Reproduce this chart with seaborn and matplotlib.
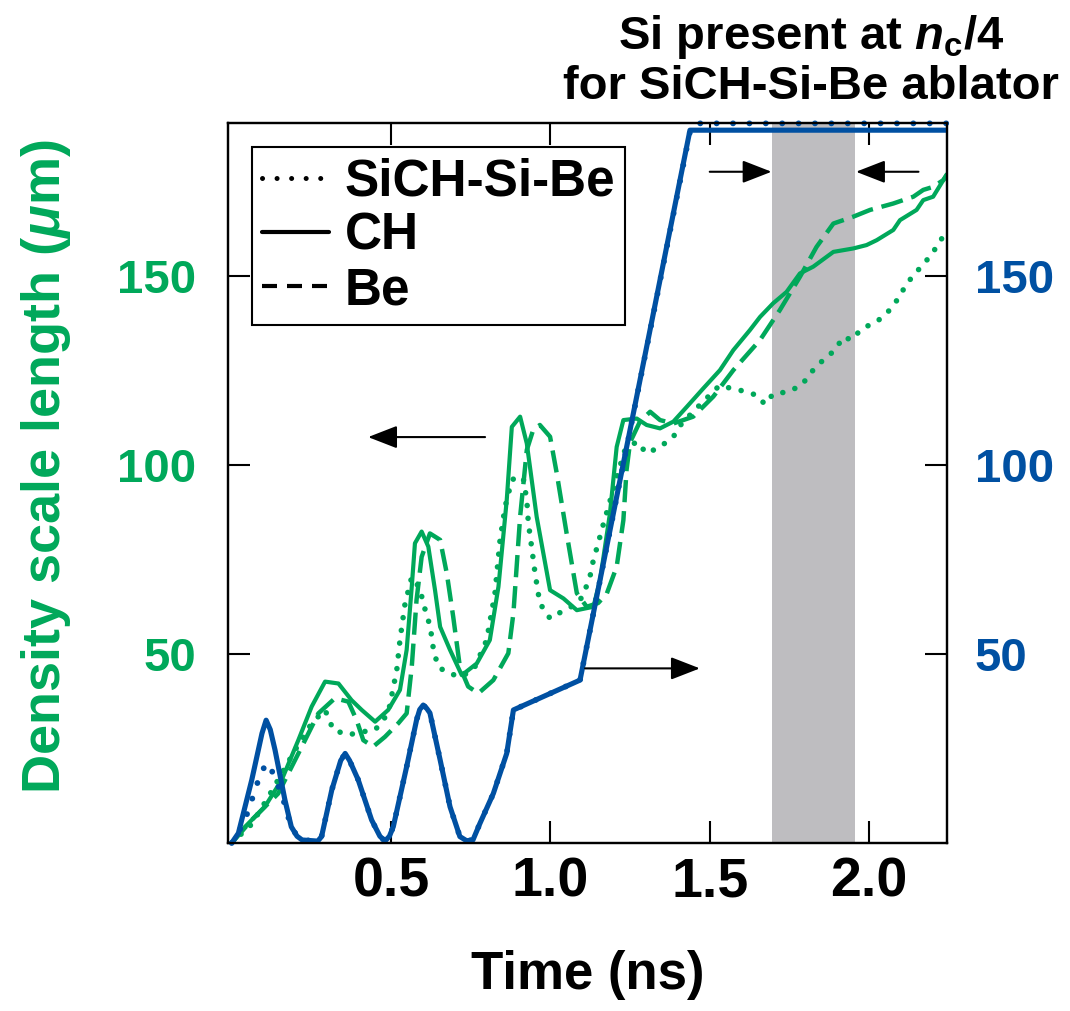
import matplotlib
matplotlib.use("Agg")
import matplotlib.pyplot as plt
import seaborn as sns
from matplotlib.lines import Line2D

# ---------------- data (time in ns, values in um) ----------------
blue_ch_t = [0, 0.021, 0.063, 0.095, 0.108, 0.121, 0.136, 0.167, 0.187, 0.205, 0.221, 0.27, 0.282, 0.314,
             0.342, 0.356, 0.37, 0.397, 0.439, 0.465, 0.481, 0.495, 0.507, 0.549, 0.58, 0.59, 0.601, 0.612,
             0.622, 0.654, 0.685, 0.716, 0.737, 0.757, 0.779, 0.821, 0.863, 0.884, 1.093, 1.438, 2.245]
blue_ch_v = [0, 2.6, 16.7, 29.0, 32.5, 30.0, 24.6, 11.4, 4.3, 1.8, 0.8, 0.5, 1.7, 14.0,
             21.8, 23.7, 21.8, 16.7, 6.1, 1.8, 0.5, 1.8, 4.3, 20.2, 32.5, 35.3, 36.5, 35.6,
             34.4, 22.0, 9.6, 1.7, 0.6, 0.8, 5.2, 13.1, 23.7, 35.2, 43.1, 188.6, 188.6]

blue_si_t = [0, 0.021, 0.05, 0.094, 0.118, 0.136, 0.157, 0.173, 0.188, 0.205, 0.221, 0.27, 0.282, 0.314,
             0.342, 0.356, 0.37, 0.397, 0.439, 0.465, 0.481, 0.495, 0.507, 0.549, 0.58, 0.59, 0.601, 0.612,
             0.622, 0.654, 0.685, 0.716, 0.737, 0.757, 0.779, 0.821, 0.863, 0.884, 1.093, 1.44, 1.455, 2.245]
blue_si_v = [0, 2.6, 8.0, 19.3, 21.1, 16.7, 13.1, 7.9, 4.3, 1.8, 0.8, 0.5, 1.7, 14.0,
             21.8, 23.7, 21.8, 16.7, 6.1, 1.8, 0.5, 1.8, 4.3, 20.2, 32.5, 35.3, 36.5, 35.6,
             34.4, 22.0, 9.6, 1.7, 0.6, 0.8, 5.2, 13.1, 23.7, 35.2, 43.1, 189.0, 190.4, 190.4]

green_ch_t = [0, 0.042, 0.104, 0.157, 0.209, 0.251, 0.293, 0.335, 0.376, 0.408, 0.45, 0.491, 0.528, 0.549,
              0.565, 0.575, 0.596, 0.617, 0.638, 0.654, 0.685, 0.722, 0.769, 0.81, 0.837, 0.863, 0.879,
              0.905, 0.926, 0.957, 0.999, 1.041, 1.083, 1.135, 1.156, 1.187, 1.208, 1.229, 1.271, 1.302,
              1.344, 1.386, 1.428, 1.48, 1.532, 1.574, 1.626, 1.658, 1.699, 1.741, 1.783, 1.825, 1.888,
              1.95, 1.992, 2.024, 2.076, 2.097, 2.149, 2.17, 2.201, 2.233, 2.245]
green_ch_v = [0, 4.3, 9.6, 16.7, 27.2, 36.1, 42.7, 42.2, 37.8, 35.2, 32.1, 35.2, 40.5, 51.1,
              67.8, 79.3, 82.4, 78.4, 66.9, 57.2, 51.1, 44.4, 47.5, 53.7, 67.8, 90.7, 110.1,
              112.8, 105.7, 86.3, 66.9, 64.7, 61.6, 62.5, 69.6, 87.3, 104.8, 111.9, 112.3, 110.6,
              109.7, 111.5, 115.4, 120.3, 125.1, 130.4, 135.7, 139.2, 142.8, 145.8, 150.7, 152.5, 156.4,
              157.3, 158.2, 159.5, 162.2, 164.8, 167.5, 170.1, 171.0, 175.4, 177.0]

green_be_t = [0, 0.063, 0.146, 0.22, 0.272, 0.324, 0.366, 0.392, 0.413, 0.444, 0.481, 0.523, 0.549, 0.565,
              0.58, 0.596, 0.622, 0.654, 0.675, 0.695, 0.716, 0.742, 0.774, 0.821, 0.868, 0.884, 0.905,
              0.926, 0.946, 0.967, 0.999, 1.02, 1.051, 1.083, 1.114, 1.15, 1.177, 1.208, 1.229, 1.239,
              1.25, 1.281, 1.313, 1.344, 1.386, 1.448, 1.511, 1.574, 1.658, 1.72, 1.783, 1.835, 1.888,
              1.95, 2.003, 2.076, 2.107, 2.139, 2.17, 2.201, 2.233, 2.245]
green_be_v = [0, 6.1, 13.1, 25.5, 34.3, 38.3, 37.4, 32.5, 27.2, 25.5, 28.1, 31.7, 34.3, 46.6,
              64.3, 75.7, 81.9, 80.2, 71.3, 59.9, 46.6, 41.4, 39.6, 43.1, 50.2, 60.8, 86.3,
              104.0, 109.3, 110.6, 107.5, 97.8, 81.9, 66.1, 62.5, 63.5, 66.0, 73.1, 85.4, 98.7,
              106.0, 111.5, 114.1, 111.9, 111.0, 112.8, 118.1, 125.1, 133.1, 141.0, 149.8, 157.7, 163.9,
              165.7, 167.5, 169.2, 170.1, 171.0, 172.8, 173.6, 175.4, 177.0]

green_si_t = [0, 0.063, 0.115, 0.199, 0.251, 0.293, 0.319, 0.366, 0.408, 0.45, 0.491, 0.518, 0.528, 0.544,
              0.565, 0.591, 0.601, 0.617, 0.628, 0.633, 0.648, 0.68, 0.72, 0.76, 0.8, 0.826, 0.842, 0.858,
              0.879, 0.894, 0.915, 0.926, 0.931, 0.941, 0.952, 0.967, 0.999, 1.035, 1.065, 1.1, 1.124,
              1.135, 1.15, 1.161, 1.203, 1.218, 1.234, 1.271, 1.302, 1.344, 1.386, 1.412, 1.47, 1.53,
              1.595, 1.647, 1.673, 1.699, 1.747, 1.789, 1.82, 1.856, 1.893, 1.919, 1.945, 1.977, 2.024,
              2.06, 2.092, 2.118, 2.149, 2.181, 2.212, 2.238]
green_si_v = [0, 5.0, 12.2, 24.6, 31.7, 35.2, 29.9, 28.6, 29.4, 29.9, 34.3, 45.8, 53.7, 63.4,
              70.4, 67.3, 63.4, 59.0, 54.6, 51.1, 46.6, 44.9, 44.0, 46.0, 53.7, 66.0, 80.2, 89.0,
              96.0, 96.9, 96.5, 90.7, 84.6, 78.4, 71.3, 63.4, 59.4, 61.2, 62.5, 65.0, 70.4,
              74.9, 79.3, 82.8, 95.2, 99.6, 104.0, 106.2, 103.1, 104.8, 107.5, 111.0, 116.0, 121.0,
              119.8, 118.5, 116.1, 118.8, 119.4, 121.2, 124.7, 127.8, 130.4, 133.9, 133.1, 136.1, 137.9,
              140.6, 144.1, 148.0, 151.1, 154.2, 157.7, 161.3]

band_t = [1.695, 1.956]
# arrows: (tail_t, tip_t, value)
arrows = [(0.795, 0.428, 107.4), (1.109, 1.469, 46.2), (1.500, 1.694, 177.6), (2.155, 1.959, 177.6)]

x_ticks = [0.5, 1.0, 1.5, 2.0]
x_tick_labels = ["0.5", "1.0", "1.5", "2.0"]
y_ticks = [50, 100, 150]
y_tick_labels = ["50", "100", "150"]
legend_labels = ["SiCH-Si-Be", "CH", "Be"]

# ---------------- style ----------------
sns.set_style("white")
plt.rcParams['font.family'] = ['Liberation Sans', 'DejaVu Sans']
plt.rcParams['font.weight'] = 'bold'
plt.rcParams['text.color'] = 'black'
plt.rcParams['axes.labelcolor'] = 'black'
plt.rcParams['xtick.color'] = 'black'
plt.rcParams['ytick.color'] = 'black'
plt.rcParams['mathtext.fontset'] = 'custom'
plt.rcParams['mathtext.rm'] = 'Liberation Sans:bold'
plt.rcParams['mathtext.it'] = 'Liberation Sans:italic:bold'
plt.rcParams['mathtext.bf'] = 'Liberation Sans:bold'

GREEN = '#00A85A'
BLUE = '#0050A2'
GRAY = '#BEBDC0'

DOT_G = (0, (0.01, 2.3))
DOT_B = (0, (0.01, 2.8))
DASH_G = (0, (5.0, 2.0))

fig = plt.figure(figsize=(10.7, 10.11), dpi=100)
ax = fig.add_axes([228 / 1070, 1 - 843 / 1011, 719 / 1070, 720 / 1011])
ax.set_xlim(-0.0116, 2.2445)
ax.set_ylim(0, 190.5)

ax.axvspan(band_t[0], band_t[1], color=GRAY, lw=0, zorder=0)

sns.lineplot(x=green_si_t, y=green_si_v, ax=ax, color=GREEN, linewidth=4.0, linestyle=DOT_G,
             dash_capstyle='round', estimator=None, sort=False)
sns.lineplot(x=green_be_t, y=green_be_v, ax=ax, color=GREEN, linewidth=3.2, linestyle=DASH_G,
             estimator=None, sort=False)
sns.lineplot(x=green_ch_t, y=green_ch_v, ax=ax, color=GREEN, linewidth=3.0, estimator=None, sort=False,
             solid_joinstyle='round')

ax2 = ax.twinx()
ax2.set_ylim(0, 190.5)
sns.lineplot(x=blue_si_t, y=blue_si_v, ax=ax2, color=BLUE, linewidth=4.2, linestyle=DOT_B,
             dash_capstyle='round', estimator=None, sort=False, clip_on=False)
sns.lineplot(x=blue_ch_t, y=blue_ch_v, ax=ax2, color=BLUE, linewidth=3.7, estimator=None, sort=False,
             solid_joinstyle='round')

for tail, tip, val in arrows:
    ax2.annotate('', xy=(tip, val), xytext=(tail, val),
                 arrowprops=dict(arrowstyle='-|>,head_length=0.9,head_width=0.35', color='black',
                                 lw=1.5, shrinkA=0, shrinkB=0, mutation_scale=20))

# ticks
ax.set_xticks(x_ticks)
ax.set_xticklabels(x_tick_labels)
ax.set_yticks(y_ticks)
ax.set_yticklabels(y_tick_labels)
ax2.set_yticks(y_ticks)
ax2.set_yticklabels(y_tick_labels)
ax.tick_params(axis='x', direction='in', length=16, width=1.5, top=True, bottom=True,
               labelsize=40, pad=10, colors='black')
ax.tick_params(axis='y', direction='in', length=16, width=1.5, left=True, right=False,
               labelsize=34, pad=23, color='black', labelcolor=GREEN)
ax2.tick_params(axis='y', direction='in', length=16, width=1.5, right=True,
                labelsize=34, pad=20, color='black', labelcolor=BLUE)
for a in (ax, ax2):
    for s in a.spines.values():
        s.set_linewidth(1.6)
        s.set_color('black')
        s.set_visible(True)
ax2.set_ylabel('')
ax2.set_xlabel('')

ax.set_xlabel("Time (ns)", fontsize=38, fontweight='bold', va='top', color='black')
ax.xaxis.set_label_coords(0.5, -0.149)
ax.set_ylabel(r"Density scale length ($\mu$m)", fontsize=39, fontweight='bold', color=GREEN)
ax.yaxis.set_label_coords(-0.215, 0.522)

# legend
handles = [
    Line2D([], [], color='black', lw=3.6, linestyle=(0, (0.01, 2.9)), dash_capstyle='round'),
    Line2D([], [], color='black', lw=3.0),
    Line2D([], [], color='black', lw=3.0, linestyle=(0, (3.6, 2.4))),
]
leg = ax.legend(handles, legend_labels, loc='upper left', bbox_to_anchor=(0.0334, 0.966),
                borderaxespad=0, prop={'size': 37, 'weight': 'bold'}, frameon=True, fancybox=False,
                edgecolor='black', framealpha=1, handlelength=1.3, handletextpad=0.3,
                labelspacing=0.1, borderpad=0.2)
leg.get_frame().set_linewidth(1.5)
for t in leg.get_texts():
    t.set_color('black')
leg.set_zorder(5)

fig.text(811 / 1070, 1 - 13 / 1011, "Si present at $n_\\mathrm{c}$/4\nfor SiCH-Si-Be ablator",
         ha='center', va='top', fontsize=34, fontweight='bold', linespacing=1.12, color='black')

fig.savefig("out.png", dpi=100, facecolor='white')
